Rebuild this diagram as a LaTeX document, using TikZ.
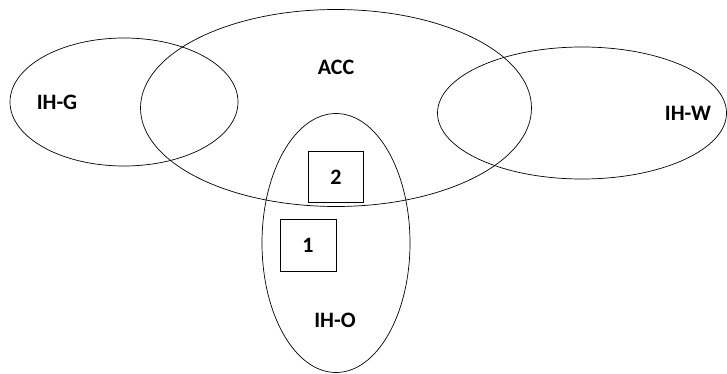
\documentclass[tikz,border=0pt]{standalone}
\usepackage{fontspec}
\setmainfont{Carlito}
\usetikzlibrary{shapes.geometric}

\begin{document}
\begin{tikzpicture}[
        x=1pt, y=-1pt,
        set/.style={draw, ellipse, line width=0.7pt, inner sep=0pt},
        tag/.style={font=\fontsize{22}{26}\selectfont\bfseries},
        cell/.style={draw, line width=0.7pt, inner sep=0pt, tag}
      ]
      \useasboundingbox (0,0) rectangle (727,374);

      % the four sets
      \node[set, minimum width=228pt, minimum height=128pt] (ihg) at (124,102) {};
      \node[set, minimum width=391pt, minimum height=197pt] (acc) at (336,108) {};
      \node[set, minimum width=289pt, minimum height=132pt] (ihw) at (582,113) {};
      \node[set, minimum width=148pt, minimum height=259pt] (iho) at (336,243) {};

      % set names
      \node[tag] (accname) at (336,67) {ACC};
      \node[tag] (ihgname) at (57,102) {IH-G};
      \node[tag] (ihwname) at (688,113) {IH-W};
      \node[tag] (ihoname) at (335,320) {IH-O};

      % numbered boxes
      \node[cell, minimum width=55pt, minimum height=51pt] (two) at (336,177) {2};
      \node[cell, minimum width=56pt, minimum height=52pt] (one) at (308,245) {1};
    \end{tikzpicture}
\end{document}
